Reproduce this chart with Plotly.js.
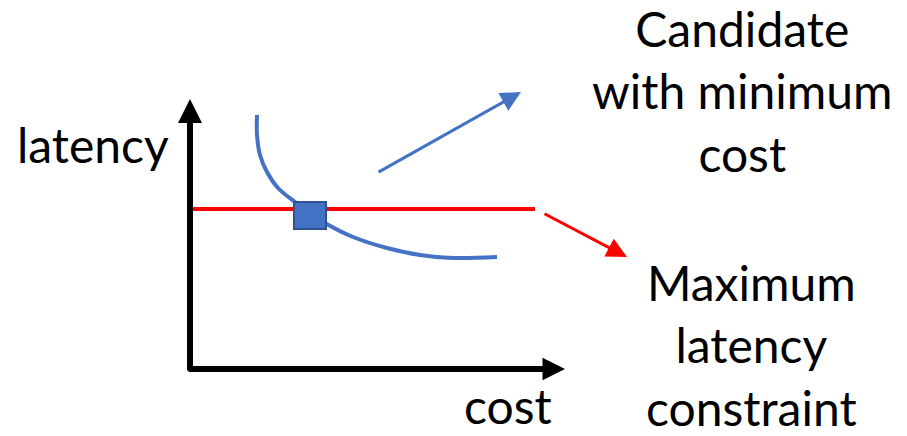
<!DOCTYPE html>
<html>
<head>
<meta charset="utf-8">
<script src="https://cdn.plot.ly/plotly-3.0.1.min.js"></script>
<style>html,body{margin:0;padding:0;background:#fff;}#chart{width:907px;height:436px;}</style>
</head>
<body>
<div id="chart"></div>
<script>
// Trade-off curve (cost vs latency, arbitrary units)
const curveCost    = [67, 67, 70, 77, 88, 105, 120, 135, 163, 197, 230, 263, 307];
const curveLatency = [254, 234, 214, 197, 181, 167, 156, 146, 132, 121, 114, 111, 112];
// Maximum latency constraint
const constraintCost = [0, 345];
const constraintLatency = [160, 160];
// Selected candidate
const candidateCost = [104, 136];
const candidateLatency = [140, 167];
// Axis extents
const axisCost = [-3, 375];
const axisLatency = [-3, 270];
// Callout arrows: [tailCost, tailLatency, tipCost, tipLatency]
const candidateArrow = [187, 196, 331, 277];
const constraintArrow = [353, 156, 437, 112];
// Text
const axisTitles = ['cost', 'latency'];
const calloutTexts = ['Candidate<br>with minimum<br>cost', 'Maximum<br>latency<br>constraint'];

const FONT = 'Lato, "Open Sans", sans-serif';
const BLUE = '#4472C4';

const traces = [
  {x: constraintCost, y: constraintLatency, mode: 'lines', line: {color: '#FF0000', width: 4}, hoverinfo: 'skip'},
  {x: curveCost, y: curveLatency, mode: 'lines', line: {color: BLUE, width: 4, shape: 'spline', smoothing: 1}, hoverinfo: 'skip'}
];

function arrow(tail, tip, color, width, size) {
  return {x: tip[0], y: tip[1], ax: tail[0], ay: tail[1], xref: 'x', yref: 'y', axref: 'x', ayref: 'y',
    text: '', showarrow: true, arrowhead: 2, arrowsize: size, arrowwidth: width, arrowcolor: color, standoff: 0, startstandoff: 0};
}

const annotations = [
  arrow([axisCost[0], 0], [axisCost[1], 0], '#000', 6, 0.75),
  arrow([0, axisLatency[0]], [0, axisLatency[1]], '#000', 6, 0.8),
  arrow([candidateArrow[0], candidateArrow[1]], [candidateArrow[2], candidateArrow[3]], BLUE, 3, 1.35),
  arrow([constraintArrow[0], constraintArrow[1]], [constraintArrow[2], constraintArrow[3]], '#FF0000', 3, 1.35),
  {x: 318, y: -36, xref: 'x', yref: 'y', text: axisTitles[0], showarrow: false, xanchor: 'center', yanchor: 'middle', font: {family: FONT, size: 48, color: '#000'}},
  {x: -97, y: 225, xref: 'x', yref: 'y', text: axisTitles[1], showarrow: false, xanchor: 'center', yanchor: 'middle', font: {family: FONT, size: 48, color: '#000'}},
  {x: 552, y: 278, xref: 'x', yref: 'y', text: calloutTexts[0], showarrow: false, xanchor: 'center', yanchor: 'middle', font: {family: FONT, size: 48, color: '#000'}},
  {x: 561, y: 24, xref: 'x', yref: 'y', text: calloutTexts[1], showarrow: false, xanchor: 'center', yanchor: 'middle', font: {family: FONT, size: 48, color: '#000'}}
];

const shapes = [
  {type: 'rect', xref: 'x', yref: 'y', x0: candidateCost[0], x1: candidateCost[1], y0: candidateLatency[0], y1: candidateLatency[1],
   fillcolor: BLUE, line: {color: '#2F528F', width: 2}, layer: 'above'}
];

const layout = {
  width: 907, height: 436,
  margin: {l: 0, r: 0, t: 0, b: 0},
  paper_bgcolor: '#fff', plot_bgcolor: '#fff',
  showlegend: false,
  xaxis: {range: [-190, 717], visible: false, fixedrange: true},
  yaxis: {range: [-67, 369], visible: false, fixedrange: true},
  annotations: annotations,
  shapes: shapes
};

Plotly.newPlot('chart', traces, layout, {staticPlot: true, displayModeBar: false});
</script>
</body>
</html>
